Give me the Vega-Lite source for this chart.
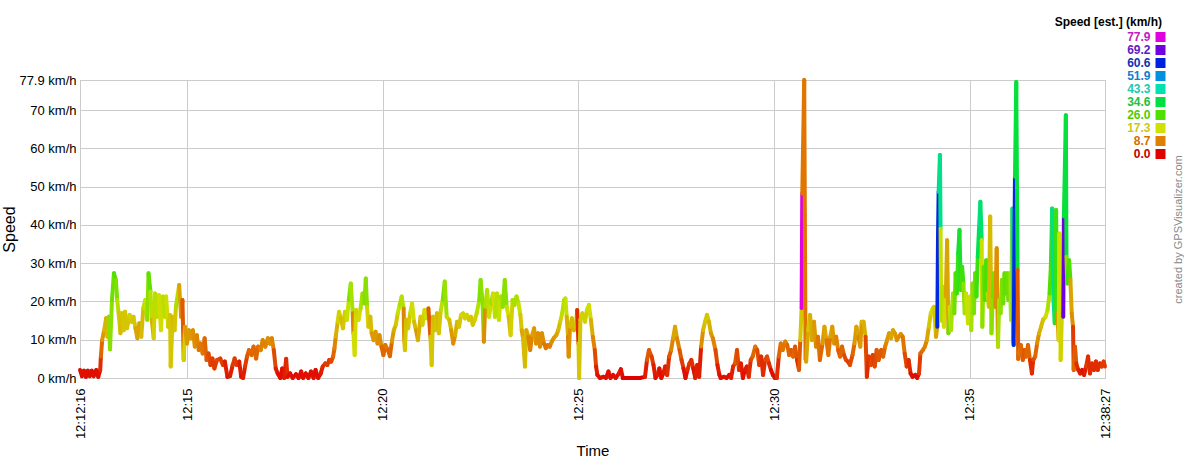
{
"$schema":"https://vega.github.io/schema/vega-lite/v6.json",
"width":1025,"height":298,
"autosize":{"type":"none"},
"padding":{"left":80,"top":80,"right":79,"bottom":82},
"background":"white",
"title":{"text":"Speed [est.] (km/h)","anchor":"end","frame":"group","dx":57,"dy":2,"fontSize":12,"fontWeight":"bold","font":"Liberation Sans","color":"#000","offset":4},
"data":{"values":[
{"s":0,"v":2.1,"c":1},{"s":3,"v":0.5,"c":1},{"s":6,"v":1.9,"c":1},{"s":9,"v":0.3,"c":1},{"s":12,"v":1.9,"c":1},{"s":15,"v":0.5,"c":1},{"s":18,"v":1.9,"c":1},{"s":21,"v":0.5,"c":1},{"s":25,"v":2.1,"c":1},{"s":28,"v":0.3,"c":1},{"s":31,"v":2.1,"c":3},{"s":32,"v":5.6,"c":7},{"s":34,"v":9.9,"c":11},{"s":37,"v":12.5,"c":14},{"s":40,"v":15.6,"c":13},{"s":42,"v":10.8,"c":14},{"s":44,"v":16,"c":22},{"s":46,"v":7.5,"c":22},{"s":49,"v":20.4,"c":24},{"s":52,"v":27.4,"c":26},{"s":55,"v":25.6,"c":23},{"s":57,"v":20.4,"c":19},{"s":59,"v":17.3,"c":15},{"s":62,"v":11.7,"c":14},{"s":64,"v":16.9,"c":15},{"s":67,"v":12.5,"c":15},{"s":69,"v":17.3,"c":15},{"s":72,"v":13,"c":15},{"s":76,"v":16.5,"c":16},{"s":79,"v":14.7,"c":15},{"s":82,"v":16,"c":15},{"s":85,"v":13,"c":12},{"s":88,"v":10.4,"c":12},{"s":91,"v":14.3,"c":12},{"s":94,"v":10.8,"c":14},{"s":97,"v":18.2,"c":19},{"s":100,"v":20.4,"c":18},{"s":103,"v":15.2,"c":22},{"s":105,"v":27.4,"c":25},{"s":108,"v":22.6,"c":19},{"s":110,"v":15.2,"c":13},{"s":113,"v":10.4,"c":16},{"s":115,"v":22.1,"c":19},{"s":118,"v":16,"c":19},{"s":121,"v":21.7,"c":17},{"s":124,"v":12.5,"c":17},{"s":127,"v":21.3,"c":19},{"s":130,"v":16,"c":19},{"s":132,"v":21.3,"c":17},{"s":135,"v":13.4,"c":15},{"s":138,"v":16.5,"c":15},{"s":139,"v":3,"c":15},{"s":142,"v":16,"c":14},{"s":145,"v":12.5,"c":15},{"s":147,"v":18.6,"c":20},{"s":150,"v":22.1,"c":16},{"s":152,"v":24.3,"c":12},{"s":155,"v":16,"c":10},{"s":157,"v":20.4,"c":6},{"s":159,"v":4.7,"c":16},{"s":161,"v":13.4,"c":11},{"s":164,"v":9,"c":11},{"s":167,"v":12.5,"c":11},{"s":170,"v":10.4,"c":11},{"s":173,"v":12.5,"c":10},{"s":176,"v":8.2,"c":10},{"s":179,"v":11.2,"c":9},{"s":182,"v":7.3,"c":8},{"s":185,"v":9,"c":8},{"s":188,"v":6.4,"c":8},{"s":191,"v":10.4,"c":7},{"s":194,"v":4.7,"c":6},{"s":197,"v":6.4,"c":5},{"s":200,"v":3.4,"c":4},{"s":203,"v":5.1,"c":4},{"s":206,"v":2.5,"c":4},{"s":210,"v":4.7,"c":5},{"s":215,"v":5.1,"c":4},{"s":219,"v":3.4,"c":4},{"s":222,"v":4.3,"c":2},{"s":226,"v":0.3,"c":1},{"s":230,"v":0.5,"c":2},{"s":234,"v":3.4,"c":4},{"s":237,"v":5.1,"c":4},{"s":240,"v":3.4,"c":4},{"s":244,"v":4.3,"c":2},{"s":247,"v":0.3,"c":1},{"s":250,"v":0,"c":2},{"s":253,"v":3,"c":4},{"s":256,"v":5.6,"c":6},{"s":259,"v":7.3,"c":7},{"s":263,"v":6,"c":7},{"s":266,"v":8.2,"c":7},{"s":270,"v":5.1,"c":7},{"s":273,"v":8.2,"c":8},{"s":277,"v":7.3,"c":9},{"s":280,"v":9.9,"c":9},{"s":284,"v":8.2,"c":9},{"s":288,"v":10.4,"c":10},{"s":291,"v":9,"c":10},{"s":294,"v":10.4,"c":9},{"s":297,"v":7.3,"c":5},{"s":300,"v":2.5,"c":2},{"s":303,"v":1.2,"c":1},{"s":307,"v":0,"c":1},{"s":310,"v":2.5,"c":1},{"s":313,"v":0,"c":2},{"s":316,"v":5,"c":3},
{"s":318,"v":0.3,"c":1},{"s":322,"v":1.2,"c":1},{"s":326,"v":0,"c":1},{"s":331,"v":1,"c":1},{"s":335,"v":0,"c":1},{"s":339,"v":1.7,"c":1},{"s":342,"v":0,"c":1},{"s":346,"v":1.2,"c":1},{"s":350,"v":0,"c":1},{"s":354,"v":1.7,"c":1},{"s":358,"v":0,"c":1},{"s":361,"v":2.1,"c":1},{"s":365,"v":0,"c":1},{"s":369,"v":1.2,"c":2},{"s":372,"v":3,"c":3},{"s":376,"v":3.8,"c":4},{"s":379,"v":3.4,"c":4},{"s":382,"v":4.7,"c":4},{"s":385,"v":4.3,"c":5},{"s":388,"v":5.6,"c":7},{"s":390,"v":7.8,"c":9},{"s":392,"v":10.8,"c":13},{"s":395,"v":14.7,"c":16},{"s":397,"v":17.3,"c":16},{"s":400,"v":15.6,"c":14},{"s":403,"v":13,"c":15},{"s":406,"v":17.3,"c":16},{"s":409,"v":15.2,"c":18},{"s":412,"v":20.4,"c":23},{"s":415,"v":24.7,"c":20},{"s":418,"v":16.9,"c":9},{"s":419,"v":11.7,"c":17},{"s":421,"v":6,"c":17},{"s":423,"v":17.8,"c":16},{"s":427,"v":15.2,"c":17},{"s":430,"v":18.2,"c":20},{"s":433,"v":22.1,"c":21},{"s":436,"v":19.5,"c":23},{"s":438,"v":26,"c":22},{"s":440,"v":18.6,"c":16},{"s":442,"v":13.4,"c":15},{"s":445,"v":16,"c":14},{"s":447,"v":11.7,"c":11},{"s":450,"v":9.9,"c":11},{"s":453,"v":12.1,"c":11},{"s":456,"v":9,"c":10},{"s":459,"v":11.2,"c":10},{"s":462,"v":8.2,"c":7},{"s":465,"v":6,"c":7},{"s":468,"v":8.6,"c":8},{"s":472,"v":7.3,"c":7},{"s":475,"v":5.7,"c":7},{"s":478,"v":9.5,"c":11},{"s":481,"v":12.5,"c":13},{"s":484,"v":13.9,"c":15},{"s":487,"v":16.9,"c":18},{"s":490,"v":19.1,"c":20},{"s":493,"v":21.3,"c":19},{"s":496,"v":18.2,"c":9},{"s":497,"v":9.8,"c":14},{"s":498,"v":7.3,"c":15},{"s":500,"v":15.2,"c":14},{"s":503,"v":13,"c":15},{"s":506,"v":16.9,"c":18},{"s":509,"v":19.5,"c":17},{"s":512,"v":14.7,"c":14},{"s":515,"v":12.5,"c":11},{"s":518,"v":9.9,"c":13},{"s":522,"v":16,"c":15},{"s":525,"v":13.9,"c":16},{"s":528,"v":17.8,"c":17},{"s":531,"v":15.6,"c":17},{"s":534,"v":18.2,"c":6},{"s":537,"v":10.8,"c":15},{"s":539,"v":3.4,"c":15},{"s":541,"v":16,"c":14},{"s":544,"v":12.5,"c":15},{"s":547,"v":16.9,"c":14},{"s":550,"v":11.7,"c":15},{"s":553,"v":17.8,"c":19},{"s":556,"v":20.4,"c":23},{"s":559,"v":25.2,"c":21},{"s":562,"v":16,"c":16},{"s":566,"v":15.2,"c":14},{"s":569,"v":12.5,"c":11},{"s":572,"v":9,"c":10},{"s":575,"v":11.2,"c":13},{"s":578,"v":14.7,"c":14},{"s":581,"v":13.4,"c":15},{"s":584,"v":16.5,"c":17},{"s":587,"v":16.9,"c":16},{"s":590,"v":15.6,"c":16},{"s":593,"v":16.5,"c":16},{"s":596,"v":15.2,"c":15},{"s":599,"v":16,"c":15},{"s":602,"v":13.9,"c":15},{"s":605,"v":15.2,"c":16},{"s":608,"v":16.9,"c":19},{"s":612,"v":20.4,"c":23},{"s":614,"v":25.6,"c":22},{"s":617,"v":19.5,"c":22},{"s":619,"v":9.5,"c":10},{"s":621,"v":18.6,"c":20},{"s":624,"v":23,"c":19},{"s":627,"v":16,"c":18},{"s":630,"v":19.5,"c":21},{"s":633,"v":22.1,"c":17},
{"s":636,"v":16,"c":19},{"s":639,"v":22.1,"c":19},{"s":642,"v":15.2,"c":18},{"s":645,"v":21.3,"c":20},{"s":648,"v":18.6,"c":22},{"s":651,"v":25.6,"c":22},{"s":654,"v":18.6,"c":17},{"s":657,"v":16,"c":14},{"s":660,"v":11.2,"c":16},{"s":663,"v":20.4,"c":20},{"s":666,"v":19.1,"c":20},{"s":669,"v":21.3,"c":20},{"s":672,"v":19.5,"c":18},{"s":675,"v":16.5,"c":15},{"s":677,"v":12.5,"c":12},{"s":679,"v":10.4,"c":14},{"s":682,"v":3,"c":14},{"s":684,"v":12.5,"c":12},{"s":687,"v":10.8,"c":9},{"s":690,"v":7.3,"c":9},{"s":693,"v":11.2,"c":12},{"s":696,"v":13,"c":11},{"s":699,"v":9,"c":10},{"s":702,"v":11.7,"c":10},{"s":705,"v":8.2,"c":10},{"s":708,"v":11.7,"c":10},{"s":711,"v":9,"c":8},{"s":714,"v":7.8,"c":8},{"s":717,"v":8.6,"c":8},{"s":720,"v":8.2,"c":9},{"s":723,"v":9.5,"c":10},{"s":726,"v":10.4,"c":11},{"s":730,"v":11.2,"c":12},{"s":733,"v":12.5,"c":14},{"s":736,"v":14.7,"c":16},{"s":739,"v":16.9,"c":19},{"s":742,"v":20.4,"c":21},{"s":744,"v":20.8,"c":18},{"s":746,"v":16,"c":13},{"s":748,"v":10.8,"c":8},{"s":749,"v":5.6,"c":10},{"s":751,"v":13.4,"c":14},{"s":754,"v":15.6,"c":14},{"s":757,"v":12.5,"c":13},{"s":760,"v":13.4,"c":15},{"s":762,"v":17.8,"c":3},{"s":764,"v":9,"c":15},{"s":765,"v":0,"c":15},{"s":767,"v":15.2,"c":16},{"s":770,"v":16.9,"c":16},{"s":774,"v":14.7,"c":16},{"s":777,"v":17.8,"c":18},{"s":780,"v":19.1,"c":17},{"s":783,"v":15.2,"c":13},{"s":786,"v":10.8,"c":9},{"s":789,"v":7.3,"c":5},{"s":791,"v":3,"c":2},{"s":793,"v":0.8,"c":1},{"s":797,"v":0,"c":1},{"s":802,"v":0.3,"c":1},{"s":806,"v":0,"c":1},{"s":810,"v":1.7,"c":1},{"s":813,"v":0,"c":1},{"s":817,"v":0.8,"c":1},{"s":821,"v":0,"c":1},{"s":826,"v":1.2,"c":2},{"s":829,"v":2.3,"c":1},{"s":832,"v":0,"c":0},{"s":838,"v":0,"c":0},{"s":848,"v":0,"c":0},{"s":858,"v":0,"c":0},{"s":866,"v":0.3,"c":2},{"s":869,"v":4.7,"c":6},{"s":872,"v":7.3,"c":6},{"s":876,"v":5.6,"c":4},{"s":879,"v":3.4,"c":2},{"s":882,"v":0,"c":1},{"s":885,"v":0.8,"c":2},{"s":888,"v":2.5,"c":1},{"s":891,"v":0,"c":1},{"s":894,"v":1.2,"c":2},{"s":897,"v":3,"c":2},{"s":900,"v":0.8,"c":3},{"s":903,"v":5.6,"c":6},{"s":906,"v":7.3,"c":9},{"s":909,"v":10.4,"c":12},{"s":912,"v":13.4,"c":12},{"s":915,"v":10.4,"c":9},{"s":919,"v":7.3,"c":6},{"s":922,"v":4.7,"c":4},{"s":925,"v":2.5,"c":1},{"s":928,"v":0,"c":1},{"s":931,"v":2.1,"c":3},{"s":934,"v":3.8,"c":4},{"s":937,"v":4.7,"c":3},{"s":940,"v":2.5,"c":1},{"s":943,"v":0,"c":2},{"s":946,"v":3.4,"c":2},{"s":949,"v":0.3,"c":2},
{"s":952,"v":8.2,"c":10},{"s":955,"v":12.5,"c":14},{"s":958,"v":14.7,"c":15},{"s":961,"v":16.5,"c":15},{"s":964,"v":14.7,"c":13},{"s":967,"v":11.7,"c":11},{"s":970,"v":10.4,"c":9},{"s":974,"v":7.3,"c":5},{"s":977,"v":3.4,"c":2},{"s":980,"v":0.8,"c":1},{"s":982,"v":0,"c":1},{"s":987,"v":0.3,"c":1},{"s":991,"v":0,"c":1},{"s":995,"v":0.8,"c":1},{"s":998,"v":0,"c":2},{"s":1001,"v":3,"c":3},{"s":1004,"v":3.8,"c":6},{"s":1007,"v":7.3,"c":5},{"s":1010,"v":2.1,"c":3},{"s":1013,"v":3.8,"c":2},{"s":1016,"v":0,"c":1},{"s":1019,"v":2.1,"c":2},{"s":1022,"v":3,"c":2},{"s":1025,"v":0.3,"c":3},{"s":1028,"v":4.7,"c":5},{"s":1031,"v":5.6,"c":7},{"s":1035,"v":8.2,"c":8},{"s":1038,"v":7.3,"c":5},{"s":1041,"v":3.4,"c":4},{"s":1044,"v":5.6,"c":3},{"s":1047,"v":0.8,"c":3},{"s":1050,"v":4.7,"c":5},{"s":1053,"v":5.6,"c":5},{"s":1056,"v":3.8,"c":3},{"s":1059,"v":2.1,"c":1},{"s":1062,"v":0.8,"c":1},{"s":1065,"v":0,"c":1},{"s":1068,"v":0,"c":3},{"s":1071,"v":5.6,"c":7},{"s":1074,"v":9,"c":8},{"s":1077,"v":7.3,"c":8},{"s":1081,"v":9.5,"c":9},{"s":1084,"v":8.6,"c":7},{"s":1087,"v":6,"c":7},{"s":1090,"v":7.3,"c":6},{"s":1093,"v":5.6,"c":7},{"s":1096,"v":8.2,"c":6},{"s":1099,"v":4.7,"c":3},{"s":1102,"v":2.1,"c":6},{"s":1104,"v":9.9,"c":15},{"s":1106,"v":18.3,"c":77.9},{"s":1107,"v":48.2,"c":8},{"s":1110,"v":77.9,"c":8},{"s":1111,"v":42.6,"c":8},{"s":1112,"v":5,"c":10},{"s":1113,"v":4.3,"c":12},{"s":1116,"v":12.5,"c":15},{"s":1119,"v":16.5,"c":13},{"s":1122,"v":9.9,"c":12},{"s":1125,"v":14.7,"c":11},{"s":1128,"v":8.2,"c":9},{"s":1131,"v":10.8,"c":8},{"s":1134,"v":4.7,"c":7},{"s":1138,"v":9,"c":11},{"s":1141,"v":13.4,"c":12},{"s":1144,"v":9.9,"c":8},{"s":1147,"v":6,"c":8},{"s":1150,"v":10.8,"c":12},{"s":1153,"v":13.4,"c":11},{"s":1156,"v":9,"c":10},{"s":1159,"v":10.8,"c":9},{"s":1162,"v":7.3,"c":6},{"s":1165,"v":5.6,"c":7},{"s":1168,"v":8.2,"c":7},{"s":1171,"v":6,"c":5},{"s":1174,"v":4.7,"c":5},{"s":1177,"v":4.3,"c":4},{"s":1180,"v":3.4,"c":5},{"s":1184,"v":6,"c":7},{"s":1187,"v":9,"c":11},{"s":1190,"v":13.4,"c":12},{"s":1193,"v":10.8,"c":9},{"s":1196,"v":8.2,"c":11},{"s":1198,"v":14.7,"c":14},{"s":1201,"v":14.7,"c":13},{"s":1204,"v":10.8,"c":5},{"s":1206,"v":0.3,"c":3},{"s":1209,"v":5.6,"c":4},{"s":1212,"v":3.4,"c":5},{"s":1215,"v":6,"c":4},{"s":1218,"v":3,"c":5},{"s":1221,"v":7.3,"c":6},{"s":1224,"v":4.7,"c":6},{"s":1228,"v":7.3,"c":6},{"s":1231,"v":5.6,"c":7},{"s":1234,"v":8.2,"c":9},{"s":1237,"v":9.9,"c":11},{"s":1240,"v":11.7,"c":11},{"s":1243,"v":10.4,"c":12},{"s":1246,"v":12.5,"c":12},{"s":1249,"v":11.7,"c":11},{"s":1252,"v":9.9,"c":10},{"s":1255,"v":10.8,"c":10},
{"s":1258,"v":11.5,"c":10},{"s":1261,"v":10.8,"c":8},{"s":1264,"v":6.4,"c":5},{"s":1267,"v":3,"c":4},{"s":1270,"v":4.7,"c":3},{"s":1273,"v":1.2,"c":1},{"s":1276,"v":0.3,"c":1},{"s":1280,"v":0.8,"c":1},{"s":1283,"v":0,"c":1},{"s":1286,"v":1.2,"c":4},{"s":1288,"v":6.4,"c":7},{"s":1292,"v":7.3,"c":8},{"s":1295,"v":8.2,"c":9},{"s":1298,"v":9.9,"c":12},{"s":1301,"v":13.4,"c":15},{"s":1304,"v":16.9,"c":17},{"s":1307,"v":18.2,"c":18},{"s":1309,"v":18.6,"c":15},{"s":1312,"v":10.8,"c":12},{"s":1314,"v":13.4,"c":60},{"s":1315,"v":36,"c":60},{"s":1316,"v":48.7,"c":45},{"s":1318,"v":58.3,"c":40},{"s":1319,"v":39,"c":18},{"s":1320,"v":15,"c":20},{"s":1322,"v":23.9,"c":19},{"s":1324,"v":13.4,"c":17},{"s":1327,"v":21.3,"c":12},{"s":1329,"v":36,"c":12},{"s":1331,"v":11.7,"c":24},{"s":1333,"v":18.6,"c":18},{"s":1335,"v":12.5,"c":20},{"s":1338,"v":22.1,"c":20},{"s":1340,"v":16.9,"c":24},{"s":1342,"v":27.4,"c":26},{"s":1344,"v":22.1,"c":28},{"s":1346,"v":32.6,"c":33},{"s":1348,"v":38.7,"c":32},{"s":1350,"v":23,"c":27},{"s":1352,"v":29.1,"c":28},{"s":1354,"v":24.7,"c":22},{"s":1356,"v":16.9,"c":20},{"s":1358,"v":22.1,"c":18},{"s":1361,"v":14.3,"c":18},{"s":1364,"v":21.3,"c":17},{"s":1366,"v":12.5,"c":20},{"s":1368,"v":24.7,"c":22},{"s":1370,"v":16.9,"c":23},{"s":1372,"v":27.4,"c":25},{"s":1374,"v":21.3,"c":28},{"s":1376,"v":31.7,"c":36},{"s":1378,"v":39.6,"c":40},{"s":1380,"v":46.1,"c":38},{"s":1382,"v":36.1,"c":18},{"s":1383,"v":13.4,"c":22},{"s":1385,"v":29.1,"c":25},{"s":1387,"v":20.4,"c":26},{"s":1389,"v":30.8,"c":27},{"s":1391,"v":22.1,"c":20},{"s":1393,"v":18.6,"c":14},{"s":1395,"v":42.2,"c":14},{"s":1397,"v":11.7,"c":22},{"s":1399,"v":21.3,"c":24},{"s":1401,"v":27.4,"c":23},{"s":1403,"v":18.6,"c":10},{"s":1405,"v":33.9,"c":10},{"s":1407,"v":8.2,"c":20},{"s":1409,"v":20.4,"c":20},{"s":1411,"v":16.9,"c":22},{"s":1413,"v":25.6,"c":23},{"s":1415,"v":19.5,"c":24},{"s":1417,"v":27.4,"c":25},{"s":1419,"v":22.1,"c":25},{"s":1421,"v":27.4,"c":24},{"s":1423,"v":20.4,"c":24},{"s":1425,"v":27.4,"c":22},{"s":1427,"v":15.2,"c":18},{"s":1429,"v":44.3,"c":42},{"s":1430,"v":9.9,"c":42},{"s":1431,"v":8.6,"c":60},{"s":1433,"v":52.6,"c":34},{"s":1435,"v":77.4,"c":34},{"s":1437,"v":28.2,"c":6},{"s":1438,"v":5,"c":7},{"s":1439,"v":6.4,"c":8},{"s":1442,"v":8.6,"c":7},{"s":1445,"v":4.7,"c":6},{"s":1447,"v":7.3,"c":6},{"s":1450,"v":5.6,"c":7},{"s":1453,"v":8.6,"c":7},{"s":1456,"v":4.7,"c":3},{"s":1459,"v":1.2,"c":3},{"s":1461,"v":4.7,"c":5},{"s":1464,"v":5.6,"c":7},{"s":1467,"v":9.1,"c":10},{"s":1470,"v":11.7,"c":13},{"s":1473,"v":13.4,"c":14},{"s":1476,"v":15.2,"c":15},{"s":1480,"v":16,"c":17},{"s":1483,"v":17.8,"c":20},{"s":1486,"v":22.1,"c":26},{"s":1488,"v":29.1,"c":28},{"s":1490,"v":44.3,"c":40},{"s":1492,"v":20.4,"c":42},{"s":1494,"v":14.3,"c":30},{"s":1496,"v":43.9,"c":28},{"s":1498,"v":16.9,"c":10},{"s":1500,"v":9.9,"c":17},{"s":1501,"v":37.8,"c":17},{"s":1503,"v":4.7,"c":16},{"s":1505,"v":16.9,"c":16},{"s":1507,"v":16,"c":69},{"s":1508,"v":42.2,"c":34},{"s":1511,"v":68.7,"c":34},{"s":1512,"v":31.7,"c":22},{"s":1513,"v":24.7,"c":28},{"s":1516,"v":30.8,"c":26},{"s":1518,"v":25.6,"c":12},{"s":1520,"v":16.9,"c":10},{"s":1522,"v":13.4,"c":4},{"s":1523,"v":2.1,"c":7},{"s":1525,"v":8.2,"c":6},{"s":1527,"v":3.8,"c":3},{"s":1530,"v":2.1,"c":2},{"s":1533,"v":1.2,"c":2},{"s":1536,"v":2.1,"c":1},{"s":1539,"v":0.8,"c":2},{"s":1542,"v":3,"c":4},{"s":1545,"v":5.6,"c":3},{"s":1548,"v":1.2,"c":3},{"s":1551,"v":3.8,"c":3},{"s":1554,"v":2.1,"c":3},{"s":1557,"v":4.3,"c":3},{"s":1560,"v":2.1,"c":3},{"s":1563,"v":3.8,"c":3},{"s":1566,"v":3,"c":4},{"s":1569,"v":4.3,"c":4},{"s":1571,"v":3,"c":3}
]},
"layer":[
{
"transform":[
{"window":[{"op":"lead","field":"s","as":"s2"},{"op":"lead","field":"v","as":"v2"}],"sort":[{"field":"s","order":"ascending"}]},
{"filter":"isValid(datum.s2)"}
],
"mark":{"type":"rule","strokeWidth":4,"strokeCap":"round"},
"encoding":{
"x":{"field":"s","type":"quantitative","scale":{"domain":[0,1571],"nice":false,"zero":false},
 "axis":{"title":"Time","values":[0,164,464,764,1064,1364,1571],
  "labelExpr":"datum.value == 0 ? '12:12:16' : datum.value == 1571 ? '12:38:27' : '12:' + ((datum.value - 164) / 60 + 15)",
  "labelAngle":270,"labelPadding":10,"ticks":false,"domain":false,"gridColor":"#cccccc","labelFontSize":13,"labelColor":"#000",
  "titleFontSize":15,"titleFontWeight":"normal","titleColor":"#000","titleY":72,"titleBaseline":"middle"}},
"x2":{"field":"s2"},
"y":{"field":"v","type":"quantitative","scale":{"domain":[0,77.9],"nice":false,"zero":true},
 "axis":{"title":"Speed","values":[0,10,20,30,40,50,60,70,77.9],"labelExpr":"datum.value + ' km/h'",
  "ticks":false,"domain":false,"labelPadding":4,"gridColor":"#cccccc","labelFontSize":13,"labelColor":"#000",
  "titleFontSize":16,"titleFontWeight":"normal","titleColor":"#000","titleX":-71,"titleY":149,"titleAngle":270,"titleAlign":"center","titleBaseline":"middle"}},
"y2":{"field":"v2"},
"color":{"field":"c","type":"quantitative",
 "scale":{"type":"linear","domain":[0,8.7,17.3,26,34.6,43.3,51.9,60.6,69.2,77.9],
  "range":["#e00000","#e08000","#d0e000","#50e000","#00e040","#00e0b0","#0090e0","#0020e0","#7000e0","#e000e0"],"interpolate":"rgb"},
 "legend":{"orient":"none","legendX":1050.5,"legendY":-49,"title":null,"type":"symbol",
  "values":[77.9,69.2,60.6,51.9,43.3,34.6,26,17.3,8.7,0],"format":".1f",
  "symbolType":"square","symbolSize":100,"symbolStrokeWidth":0,"rowPadding":1,"padding":0,
  "labelFont":"Liberation Sans","labelFontSize":12,"labelFontWeight":"bold",
  "encode":{
   "symbols":{"update":{"fill":{"scale":"color","field":"value"},"stroke":{"value":"transparent"},"strokeWidth":{"value":0},"x":{"value":30},"opacity":{"value":1}}},
   "labels":{"update":{"x":{"value":20},"align":{"value":"right"},
    "fill":{"signal":"datum.value >= 77 ? '#c020c0' : datum.value >= 69 ? '#6020c0' : datum.value >= 60 ? '#1030b0' : datum.value >= 51 ? '#1080d0' : datum.value >= 43 ? '#20c8b0' : datum.value >= 34 ? '#20c040' : datum.value >= 25 ? '#50cc00' : datum.value >= 17 ? '#c8c820' : datum.value >= 8 ? '#d07000' : '#c00000'"}}}
  }}}
}
},
{
"mark":{"type":"point","opacity":0},
"encoding":{
"x":{"field":"s","type":"quantitative"},
"y":{"field":"v","type":"quantitative",
 "axis":{"orient":"right","title":"created by GPSVisualizer.com","labels":false,"ticks":false,"domain":false,"grid":false,
  "titleAngle":270,"titleX":73,"titleY":149,"titleAlign":"center","titleBaseline":"middle","titleColor":"#888888","titleFontSize":11,"titleFontWeight":"normal"}}
}
}
],
"resolve":{"scale":{"y":"shared"},"axis":{"y":"independent"}},
"config":{
"font":"Liberation Sans",
"view":{"stroke":"#bbbbbb","strokeWidth":1},
"axis":{"labelFont":"Liberation Sans","titleFont":"Liberation Sans"}
}
}
